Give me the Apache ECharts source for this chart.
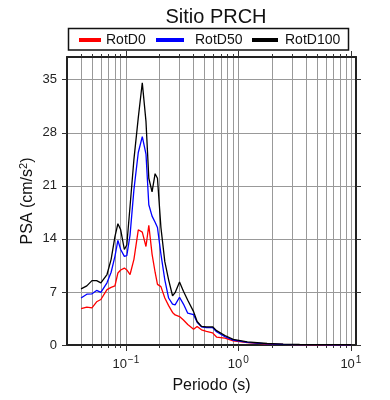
<!DOCTYPE html>
<html>
<head>
<meta charset="utf-8">
<script src="https://cdn.jsdelivr.net/npm/echarts@6/dist/echarts.min.js"></script>
<style>html,body{margin:0;padding:0;background:#fff}#c{width:390px;height:400px}</style>
</head>
<body>
<div id="c"></div>
<script>
const periods = [0.040,0.045,0.050,0.055,0.060,0.068,0.074,0.080,0.085,0.090,0.097,0.102,0.109,0.118,0.129,0.140,0.151,0.160,0.171,0.182,0.191,0.205,0.222,0.240,0.260,0.274,0.300,0.325,0.355,0.400,0.430,0.470,0.520,0.590,0.640,0.760,0.900,1.2,1.8,2.5,3.5,5,7,10];
const rotD0 = [4.8,5.0,4.9,5.7,6.0,7.3,7.6,7.8,9.5,9.9,10.15,9.9,9.3,11.3,15.2,14.9,13.0,15.8,12.0,9.6,8.0,7.7,6.2,5.2,4.3,3.97,3.75,3.3,2.7,2.07,2.45,2.0,1.8,1.6,1.05,0.9,0.55,0.3,0.12,0.07,0.04,0.03,0.02,0.02];
const rotD50 = [6.2,6.7,6.75,7.2,6.95,8.2,9.6,11.7,13.8,12.6,11.7,11.8,14.5,20.5,25.4,27.5,25.2,18.5,17.0,16.2,15.5,12.0,8.6,6.2,5.4,5.3,6.3,5.4,4.2,4.0,3.0,2.4,2.3,2.3,1.75,1.1,0.65,0.35,0.15,0.09,0.05,0.04,0.03,0.02];
const rotD100 = [7.4,7.8,8.5,8.5,8.2,9.3,11.3,14.3,16.0,15.2,12.6,13.2,18.3,24.5,30.0,34.6,29.5,22.0,20.2,22.6,22.0,15.5,11.0,8.6,6.5,6.9,8.3,7.1,5.9,4.4,3.1,2.45,2.4,2.4,1.9,1.25,0.75,0.42,0.2,0.12,0.07,0.05,0.04,0.03];
const xMajor = [0.1,1,10];
const xMinor = [0.04,0.05,0.06,0.07,0.08,0.09,0.1,0.2,0.3,0.4,0.5,0.6,0.7,0.8,0.9,1,2,3,4,5,6,7,8,9,10];
const xLabels = {0.1:'10{s|−1}',1:'10{s|0}',10:'10{s|1}'};
const yTicks = [0,7,14,21,28,35];

const FONT = 'Liberation Sans';
const chart = echarts.init(document.getElementById('c'));
const xBase = {type:'log', min:0.03, max:11.1, logBase:10};
function xAx(pos, vals, len, labels, split, line){
  return Object.assign({}, xBase, {
    position:pos,
    axisLine:{show:line, onZero:false, lineStyle:{color:'#222', width:2}},
    axisTick:{show:true, inside:false, length:len, customValues:vals, lineStyle:{color:'#333', width:1}},
    axisLabel:{show:labels, customValues:xMajor, formatter:v=>xLabels[v]||'', color:'#222', fontFamily:FONT, fontSize:13, margin:10,
      rich:{s:{fontSize:10, fontFamily:FONT, color:'#222', padding:[0,0,8,1]}}},
    splitLine:{show:split, lineStyle:{color:'#999', width:1}},
    name: labels ? 'Periodo (s)' : '',
    nameLocation:'middle', nameGap:33, nameMoveOverlap:false,
    nameTextStyle:{color:'#111', fontFamily:FONT, fontSize:16}
  });
}
function mk(name, data, color){
  return {name, type:'line', xAxisIndex:0, yAxisIndex:0, symbol:'none', smooth:false,
    data: periods.map((p,i)=>[p, data[i]]), lineStyle:{color, width:1.3}, itemStyle:{color}, z:5};
}
const legBase = {top:33, padding:0, itemHeight:4, icon:'rect', textStyle:{fontFamily:FONT, fontSize:14, color:'#111'}};
chart.setOption({
  animation:false,
  title:{text:'Sitio PRCH', left:211, top:2, textAlign:'center', textStyle:{fontFamily:FONT, fontSize:20, fontWeight:'normal', color:'#111'}},
  graphic:[{type:'rect', shape:{x:68.5, y:28.5, width:280, height:21.5}, style:{fill:'none', stroke:'#111', lineWidth:1.5}}],
  legend:[
    Object.assign({}, legBase, {left:79, itemWidth:22, data:['RotD0']}),
    Object.assign({}, legBase, {left:156, itemWidth:28, data:['RotD50'], textStyle:Object.assign({}, legBase.textStyle, {padding:[0,0,0,6]})}),
    Object.assign({}, legBase, {left:252, itemWidth:26, data:['RotD100'], textStyle:Object.assign({}, legBase.textStyle, {padding:[0,0,0,2]})})
  ],
  grid:{left:67, right:34, top:57, bottom:55, show:false},
  xAxis:[
    xAx('bottom', xMinor, 3, false, true, true),
    xAx('bottom', xMajor, 6, true, false, false),
    xAx('top', xMinor, 3, false, false, true),
    xAx('top', xMajor, 6, false, false, false)
  ],
  yAxis:[
    {type:'value', min:0, max:38, interval:7, position:'left',
     axisLine:{show:true, lineStyle:{color:'#222', width:2}},
     axisTick:{show:true, length:5, customValues:yTicks, lineStyle:{color:'#333'}},
     axisLabel:{customValues:yTicks, color:'#222', fontFamily:FONT, fontSize:13, margin:10},
     splitLine:{show:true, lineStyle:{color:'#999', width:1}},
     name:'PSA (cm/s{s|2})', nameLocation:'middle', nameGap:30, nameRotate:90, nameMoveOverlap:false,
     nameTextStyle:{color:'#111', fontFamily:FONT, fontSize:16, rich:{s:{fontSize:11, fontFamily:FONT, color:'#111', padding:[0,0,8,0]}}}},
    {type:'value', min:0, max:38, interval:7, position:'right',
     axisLine:{show:true, lineStyle:{color:'#222', width:2}},
     axisTick:{show:true, length:5, customValues:yTicks, lineStyle:{color:'#333'}},
     axisLabel:{show:false}, splitLine:{show:false}}
  ],
  series:[mk('RotD0', rotD0, '#ff0000'), mk('RotD50', rotD50, '#0000ff'), mk('RotD100', rotD100, '#000000')]
});
</script>
</body>
</html>
